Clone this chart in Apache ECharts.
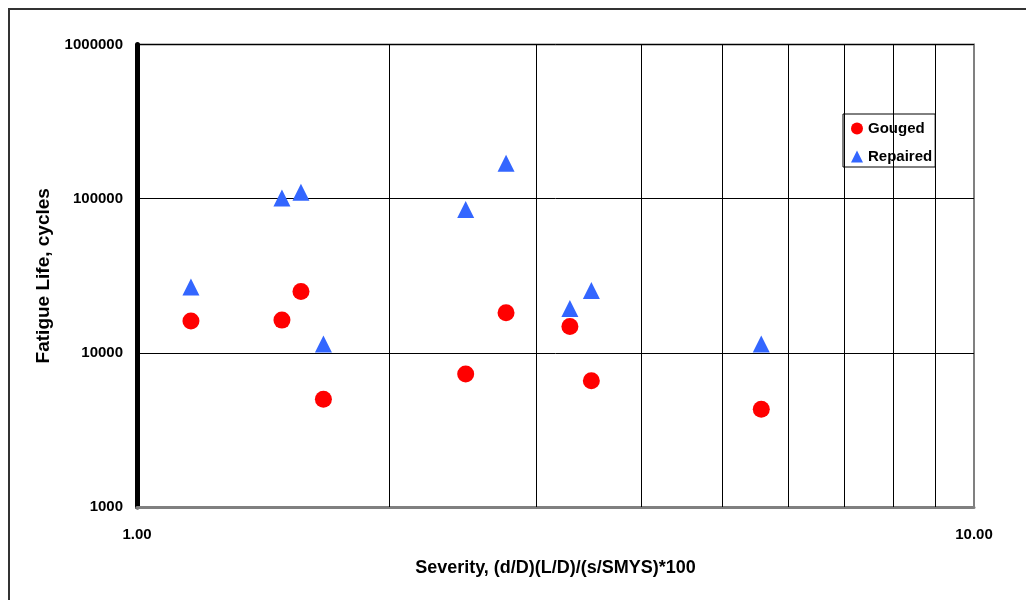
<!DOCTYPE html>
<html>
<head>
<meta charset="utf-8">
<script src="https://cdn.jsdelivr.net/npm/echarts@6/dist/echarts.min.js"></script>
<style>
html,body{margin:0;padding:0;background:#fff;}
#chart{width:1026px;height:600px;}
</style>
</head>
<body>
<div id="chart"></div>
<script>
const severity = [1.16, 1.49, 1.57, 1.67, 2.47, 2.76, 3.29, 3.49, 5.57];
const gouged   = [16100, 16300, 25000, 5000, 7300, 18200, 14800, 6600, 4300];
const repaired = [26700, 101000, 110000, 11400, 85000, 170000, 19400, 25400, 11400];
const xGridValues = [2, 3, 4, 5, 6, 7, 8, 9];
const xTitle = 'Severity, (d/D)(L/D)/(s/SMYS)*100';
const yTitle = 'Fatigue Life, cycles';
const seriesNames = ['Gouged', 'Repaired'];

const font = '"Liberation Sans", Arial, sans-serif';
const chart = echarts.init(document.getElementById('chart'), null, {renderer: 'canvas'});

chart.setOption({
  animation: false,
  backgroundColor: '#fff',
  textStyle: {fontFamily: font},
  graphic: [{
    type: 'rect', silent: true, z: 100,
    shape: {x: 9, y: 9, width: 1040, height: 620},
    style: {fill: 'none', stroke: '#333', lineWidth: 2}
  }],
  grid: {
    left: 137, right: 52, top: 44.5, bottom: 93,
    show: true, borderColor: '#808080', borderWidth: 2, backgroundColor: '#fff'
  },
  legend: {
    orient: 'vertical',
    left: 843, top: 114,
    backgroundColor: '#fff',
    borderColor: '#000', borderWidth: 1,
    padding: [7, 3, 3, 8],
    itemGap: 13,
    itemWidth: 12, itemHeight: 12,
    textStyle: {fontFamily: font, fontWeight: 'bold', fontSize: 15, color: '#000'},
    data: [
      {name: seriesNames[0], icon: 'circle'},
      {name: seriesNames[1], icon: 'triangle'}
    ]
  },
  xAxis: {
    type: 'log', logBase: 10, min: 1, max: 10,
    name: xTitle, nameLocation: 'middle', nameGap: 52,
    nameTextStyle: {fontFamily: font, fontWeight: 'bold', fontSize: 18, color: '#000'},
    axisLine: {show: true, lineStyle: {color: '#808080', width: 3}},
    axisTick: {show: false},
    splitLine: {show: false},
    axisLabel: {
      margin: 20, fontFamily: font, fontWeight: 'bold', fontSize: 15, color: '#000',
      formatter: v => Number(v).toFixed(2)
    }
  },
  yAxis: {
    type: 'log', logBase: 10, min: 1000, max: 1000000,
    name: yTitle, nameLocation: 'middle', nameGap: 78, nameRotate: 90,
    nameTextStyle: {fontFamily: font, fontWeight: 'bold', fontSize: 19, color: '#000'},
    axisLine: {show: true, lineStyle: {color: '#000', width: 5}},
    axisTick: {show: false},
    splitLine: {show: true, lineStyle: {color: '#000', width: 1}},
    axisLabel: {
      margin: 14, fontFamily: font, fontWeight: 'bold', fontSize: 15, color: '#000',
      formatter: v => String(Math.round(v))
    }
  },
  series: [
    {
      name: 'grid-x', type: 'scatter', data: [], silent: true, z: 1,
      markLine: {
        silent: true, symbol: 'none', animation: false,
        label: {show: false},
        lineStyle: {color: '#000', width: 1, type: 'solid', opacity: 1},
        data: xGridValues.map(v => ({xAxis: v}))
      }
    },
    {
      name: seriesNames[0], type: 'scatter', z: 5,
      symbol: 'circle', symbolSize: 17,
      itemStyle: {color: '#ff0000', opacity: 1},
      data: severity.map((x, i) => [x, gouged[i]])
    },
    {
      name: seriesNames[1], type: 'scatter', z: 5,
      symbol: 'triangle', symbolSize: 17,
      itemStyle: {color: '#3366ff', opacity: 1},
      data: severity.map((x, i) => [x, repaired[i]])
    }
  ]
});
</script>
</body>
</html>
